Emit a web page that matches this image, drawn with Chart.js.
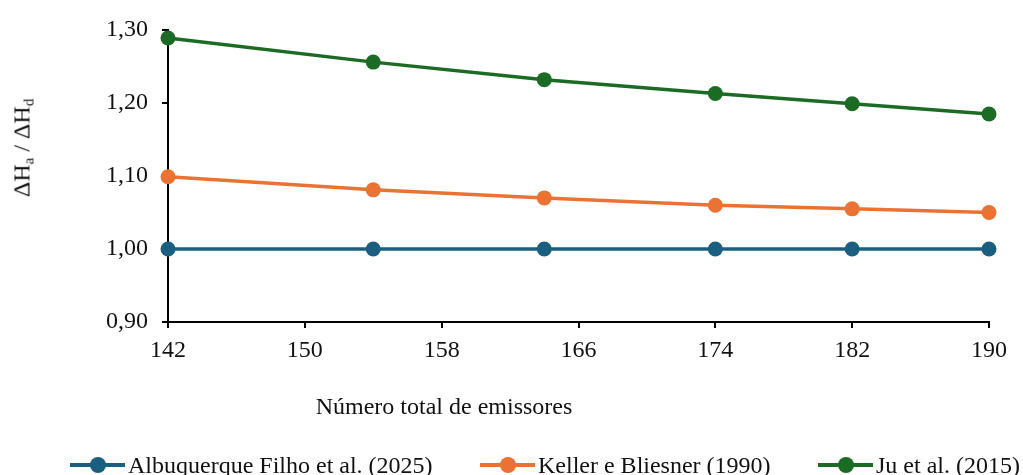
<!DOCTYPE html>
<html>
<head>
<meta charset="utf-8">
<script src="https://cdn.jsdelivr.net/npm/chart.js@4/dist/chart.umd.min.js"></script>
<style>
    body { margin: 0; background: #fff; }
    #wrap { position: relative; width: 1023px; height: 475px; font-family: 'Liberation Serif', serif; color: #111; overflow: hidden; }
    #myChart { position: absolute; left: 0; top: 0; }
    .y-title { position: absolute; left: 23px; top: 148px; transform: translate(-50%, -50%) rotate(-90deg); font-size: 24px; white-space: nowrap; }
    .y-title sub { font-size: 15px; vertical-align: -4px; }
    .x-title { position: absolute; left: 444px; top: 406px; transform: translate(-50%, -50%); font-size: 24px; white-space: nowrap; }
    .legend-item { position: absolute; top: 451px; height: 28px; display: flex; align-items: center; font-size: 24px; white-space: nowrap; }
    .marker { position: relative; width: 55px; height: 4px; margin-right: 3px; }
    .marker span { position: absolute; left: 50%; top: 50%; width: 16px; height: 16px; border-radius: 50%; transform: translate(-50%, -50%); }
</style>
</head>
<body>
<div id="wrap">
    <canvas id="myChart" width="1023" height="475"></canvas>
    <div class="y-title">ΔH<sub>a</sub> / ΔH<sub>d</sub></div>
    <div class="x-title">Número total de emissores</div>
    <div id="legend"></div>
</div>
<script>
const emitters = [142, 154, 164, 174, 182, 190]
const albuquerque = [1.000, 1.000, 1.000, 1.000, 1.000, 1.000]
const keller = [1.099, 1.081, 1.070, 1.060, 1.055, 1.050]
const ju = [1.289, 1.256, 1.232, 1.213, 1.199, 1.185]
const seriesNames = ['Albuquerque Filho et al. (2025)', 'Keller e Bliesner (1990)', 'Ju et al. (2015)']
const seriesColors = ['#1b5f80', '#eb7232', '#1b6b24']
const legendLeft = [70, 480, 818]

const ctx = document.getElementById('myChart')

const toPoints = (values) => values.map((v, i) => ({ x: emitters[i], y: v }))

const makeDataset = (label, values, color) => ({
    label: label,
    data: toPoints(values),
    borderColor: color,
    backgroundColor: color,
    borderWidth: 3.5,
    pointRadius: 7.5,
    pointHoverRadius: 7.5,
    pointBorderWidth: 0,
    tension: 0,
    clip: false,
})

Chart.defaults.font.family = "'Liberation Serif', serif"
Chart.defaults.font.size = 24
Chart.defaults.color = '#111'

const myChart = new Chart(ctx, {
    type: 'line',
    data: {
        datasets: [
            makeDataset(seriesNames[0], albuquerque, seriesColors[0]),
            makeDataset(seriesNames[1], keller, seriesColors[1]),
            makeDataset(seriesNames[2], ju, seriesColors[2]),
        ],
    },
    options: {
        responsive: false,
        animation: false,
        layout: { padding: { left: 0, right: 34, top: 30, bottom: 93 } },
        plugins: {
            legend: { display: false },
            tooltip: { enabled: false },
        },
        scales: {
            x: {
                type: 'linear',
                min: 142,
                max: 190,
                ticks: { stepSize: 8, padding: 8 },
                grid: { drawOnChartArea: false, drawTicks: true, tickLength: 6, color: '#000', lineWidth: 2 },
                border: { display: true, color: '#000', width: 2 },
                afterFit: (scale) => { scale.height = 60 },
            },
            y: {
                min: 0.9,
                max: 1.3,
                ticks: {
                    stepSize: 0.1,
                    padding: 14,
                    callback: (v) => v.toFixed(2).replace('.', ','),
                },
                grid: { drawOnChartArea: false, drawTicks: true, tickLength: 6, color: '#000', lineWidth: 2 },
                border: { display: true, color: '#000', width: 2 },
                afterFit: (scale) => { scale.width = 168 },
            },
        },
    },
})

// legend as html so the line + dot marker and spacing match
const legend = document.getElementById('legend')
seriesNames.forEach((name, i) => {
    legend.innerHTML += `
    <div class="legend-item" style="left:${legendLeft[i]}px">
        <div class="marker" style="background:${seriesColors[i]}"><span style="background:${seriesColors[i]}"></span></div>
        ${name}
    </div>`
})
</script>
</body>
</html>
